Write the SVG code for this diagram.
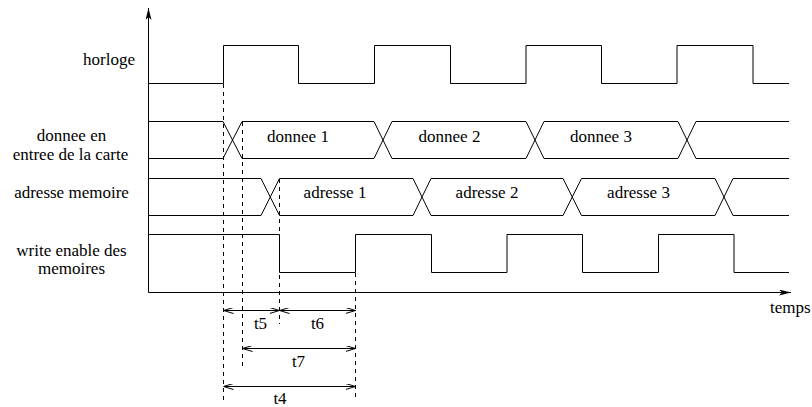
<svg xmlns="http://www.w3.org/2000/svg" width="812" height="407" viewBox="0 0 812 407">
<defs>
<style>
.sig{fill:none;stroke:#000;stroke-width:1}
.dash{fill:none;stroke:#000;stroke-width:1;stroke-dasharray:4,4}
.dim{fill:none;stroke:#000;stroke-width:1;marker-start:url(#open);marker-end:url(#open)}
.axis{fill:none;stroke:#000;stroke-width:1;marker-end:url(#solid)}
.t{font-size:17px;fill:#000}
.c{text-anchor:middle}
.e{text-anchor:end}
</style>
<marker id="open" viewBox="0 0 10 6" refX="10" refY="3" markerWidth="10" markerHeight="6" markerUnits="userSpaceOnUse" orient="auto-start-reverse">
<path d="M0,0 L10,3 L0,6" fill="none" stroke="#000" stroke-width="1"/>
</marker>
<marker id="solid" viewBox="0 0 12 6" refX="12" refY="3" markerWidth="12" markerHeight="6" markerUnits="userSpaceOnUse" orient="auto">
<path d="M0,0 L12,3 L0,6 L3,3 z" fill="#000"/>
</marker>
</defs>
<rect width="812" height="407" fill="#fff"/>
<g font-family="'Liberation Serif', 'Times New Roman', Times, 'DejaVu Serif', serif">

<g id="axes">
<line class="axis" x1="148.5" y1="292.5" x2="148.5" y2="8"/>
<line class="axis" x1="148.5" y1="292.5" x2="791" y2="292.5"/>
<text class="t" x="770" y="313">temps</text>
</g>

<g id="horloge">
<text class="t e" x="135" y="65">horloge</text>
<polyline class="sig" points="148,83.5 223.5,83.5 223.5,45.5 298.5,45.5 298.5,83.5 374.5,83.5 374.5,45.5 450.5,45.5 450.5,83.5 526,83.5 526,45.5 601.5,45.5 601.5,83.5 677,83.5 677,45.5 753,45.5 753,83.5 789,83.5"/>
</g>

<g id="donnee">
<text class="t c" x="71.5" y="141">donnee en</text>
<text class="t c" x="70.5" y="159.5">entree de la carte</text>
<polyline class="sig" points="148,121.5 223,121.5 242,158.5 374,158.5 392,121.5 526,121.5 544,158.5 678,158.5 696,121.5 789,121.5"/>
<polyline class="sig" points="148,158.5 223,158.5 242,121.5 374,121.5 392,158.5 526,158.5 544,121.5 678,121.5 696,158.5 789,158.5"/>
<text class="t c" x="298" y="141.5">donnee 1</text>
<text class="t c" x="449.5" y="141.5">donnee 2</text>
<text class="t c" x="601" y="141.5">donnee 3</text>
</g>

<g id="adresse">
<text class="t c" x="71.5" y="198">adresse memoire</text>
<polyline class="sig" points="148,178.5 261,178.5 279.5,215.5 413,215.5 431,178.5 563,178.5 581.5,215.5 715,215.5 733,178.5 789,178.5"/>
<polyline class="sig" points="148,215.5 261,215.5 279.5,178.5 413,178.5 431,215.5 563,215.5 581.5,178.5 715,178.5 733,215.5 789,215.5"/>
<text class="t c" x="335" y="198">adresse 1</text>
<text class="t c" x="487" y="198">adresse 2</text>
<text class="t c" x="638.5" y="198">adresse 3</text>
</g>

<g id="write_enable">
<text class="t c" x="71.5" y="256">write enable des</text>
<text class="t c" x="71.5" y="274">memoires</text>
<polyline class="sig" points="148,234.5 279.5,234.5 279.5,272.5 355.5,272.5 355.5,234.5 431.5,234.5 431.5,272.5 507,272.5 507,234.5 582.5,234.5 582.5,272.5 658.5,272.5 658.5,234.5 734,234.5 734,272.5 789,272.5"/>
</g>

<g id="connectors">
<line class="dash" x1="223.5" y1="84" x2="223.5" y2="401"/>
<line class="dash" x1="242.5" y1="122" x2="242.5" y2="367"/>
<line class="dash" x1="279.5" y1="179" x2="279.5" y2="324"/>
<line class="dash" x1="355.5" y1="273" x2="355.5" y2="401"/>
<line class="dim" x1="223.5" y1="310.5" x2="279.5" y2="310.5"/>
<line class="dim" x1="279.5" y1="310.5" x2="355.5" y2="310.5"/>
<line class="dim" x1="242.5" y1="348.5" x2="355.5" y2="348.5"/>
<line class="dim" x1="223.5" y1="386.5" x2="355.5" y2="386.5"/>
<text class="t c" x="260.5" y="329">t5</text>
<text class="t c" x="317.5" y="329">t6</text>
<text class="t c" x="298.5" y="367">t7</text>
<text class="t c" x="280" y="404">t4</text>
</g>
</g>
</svg>
